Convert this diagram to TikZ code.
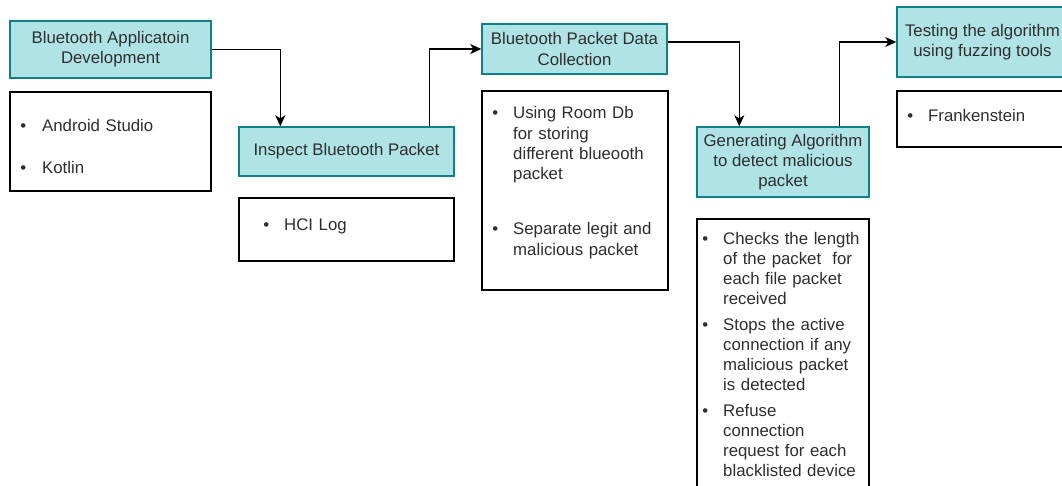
\documentclass[tikz,border=0pt]{standalone}
\usepackage{fontspec}
\setmainfont{Liberation Sans}
\usetikzlibrary{arrows.meta}
\definecolor{stagefill}{HTML}{B0E3E6}
\definecolor{stageline}{HTML}{0E8088}
\definecolor{ink}{HTML}{2E2E2E}

\begin{document}
\begin{tikzpicture}[x=1pt,y=-1pt,
	stage/.style={draw=stageline,fill=stagefill,line width=1.4pt,align=center,text=ink,inner sep=0pt,font=\fontsize{16.8}{20.2}\selectfont},
	notes/.style={draw=black,line width=1.3pt},
	pt/.style={anchor=base west,inner sep=0pt,text width=150pt,align=left,text=ink,font=\fontsize{16.8}{20.2}\selectfont},
	flow/.style={draw=black,line width=1.5pt,-{Stealth[length=11pt,width=10pt,inset=3pt]}}]
	\useasboundingbox (0,0) rectangle (1062,486);
	\clip (0,0) rectangle (1062,486);

	\node[stage,minimum width=201,minimum height=57] (dev) at (110.5,49.5) {Bluetooth Applicatoin\\Development};
	\node[stage,minimum width=215,minimum height=49] (insp) at (346.5,151.5) {Inspect Bluetooth Packet};
	\node[stage,minimum width=185,minimum height=50] (coll) at (574.5,49) {Bluetooth Packet Data\\Collection};
	\node[stage,minimum width=172,minimum height=70] (algo) at (783,162) {Generating Algorithm\\to detect malicious\\packet};
	\node[stage,minimum width=171,minimum height=70] (fuzz) at (982.5,42) {Testing the algorithm\\using fuzzing tools};

	\draw[notes] (10,92) rectangle (211,191);
	\draw[notes] (239,198) rectangle (454,261);
	\draw[notes] (482,91) rectangle (668,290);
	\draw[notes] (697,219) rectangle (869,495);
	\draw[notes] (897,91) rectangle (1070,147);

	\node[pt] (android) at (42,132) {\makebox[0pt][r]{\textbullet\hspace{16pt}}Android Studio};
	\node[pt] (kotlin) at (42,174) {\makebox[0pt][r]{\textbullet\hspace{16pt}}Kotlin};
	\node[pt] (hci) at (284,231) {\makebox[0pt][r]{\textbullet\hspace{15pt}}HCI Log};
	\node[pt] (roomdb) at (513,119) {\makebox[0pt][r]{\textbullet\hspace{15pt}}Using Room Db\\for storing\\different blueooth\\packet};
	\node[pt] (legit) at (513,235) {\makebox[0pt][r]{\textbullet\hspace{15pt}}Separate legit and\\malicious packet};
	\node[pt] (length) at (723,244) {\makebox[0pt][r]{\textbullet\hspace{15pt}}Checks the length\\of the packet\ \ for\\each file packet\\received};
	\node[pt] (stops) at (723,330) {\makebox[0pt][r]{\textbullet\hspace{15pt}}Stops the active\\connection if any\\malicious packet\\is detected};
	\node[pt] (refuse) at (723,416) {\makebox[0pt][r]{\textbullet\hspace{15pt}}Refuse\\connection\\request for each\\blacklisted device};
	\node[pt] (frank) at (928,122) {\makebox[0pt][r]{\textbullet\hspace{15pt}}Frankenstein};

	\draw[flow] (dev.east) -| ([xshift=42pt]insp.north west);
	\draw[flow] ([xshift=-25pt]insp.north east) |- (coll.west);
	\draw[flow] ([yshift=7pt]coll.east) -| ([xshift=43pt]algo.north west);
	\draw[flow] ([xshift=-30pt]algo.north east) |- (fuzz.west);
\end{tikzpicture}
\end{document}
